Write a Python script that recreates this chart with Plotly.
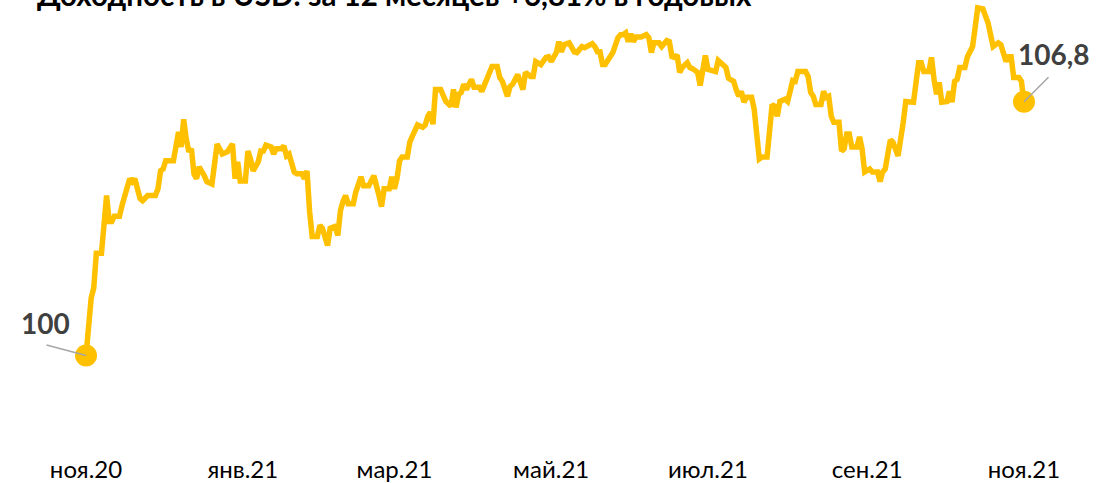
import plotly.graph_objects as go

title_text = "Доходность в USD: за 12 месяцев +6,81% в годовых"

dates = [
    "2020-11-01", "2020-11-03", "2020-11-04", "2020-11-05", "2020-11-07", "2020-11-08", "2020-11-09", "2020-11-10",
    "2020-11-11", "2020-11-12", "2020-11-14", "2020-11-15", "2020-11-17", "2020-11-18", "2020-11-19", "2020-11-20",
    "2020-11-22", "2020-11-23", "2020-11-25", "2020-11-28", "2020-11-29", "2020-11-30", "2020-12-01", "2020-12-02",
    "2020-12-05", "2020-12-06", "2020-12-07", "2020-12-08", "2020-12-09", "2020-12-10", "2020-12-11", "2020-12-12",
    "2020-12-13", "2020-12-14", "2020-12-15", "2020-12-17", "2020-12-18", "2020-12-20", "2020-12-21", "2020-12-22",
    "2020-12-24", "2020-12-26", "2020-12-28", "2020-12-29", "2020-12-30", "2020-12-31", "2021-01-02", "2021-01-03",
    "2021-01-04", "2021-01-05", "2021-01-07", "2021-01-08", "2021-01-09", "2021-01-10", "2021-01-12", "2021-01-13",
    "2021-01-14", "2021-01-16", "2021-01-17", "2021-01-18", "2021-01-19", "2021-01-21", "2021-01-22", "2021-01-24",
    "2021-01-25", "2021-01-26", "2021-01-27", "2021-01-28", "2021-01-30", "2021-01-31", "2021-02-01", "2021-02-03",
    "2021-02-04", "2021-02-06", "2021-02-07", "2021-02-08", "2021-02-09", "2021-02-10", "2021-02-11", "2021-02-13",
    "2021-02-14", "2021-02-16", "2021-02-17", "2021-02-19", "2021-02-21", "2021-02-22", "2021-02-23", "2021-02-24",
    "2021-02-25", "2021-02-27", "2021-02-28", "2021-03-01", "2021-03-02", "2021-03-03", "2021-03-04", "2021-03-06",
    "2021-03-07", "2021-03-08", "2021-03-10", "2021-03-12", "2021-03-13", "2021-03-14", "2021-03-15", "2021-03-16",
    "2021-03-17", "2021-03-19", "2021-03-21", "2021-03-23", "2021-03-24", "2021-03-25", "2021-03-26", "2021-03-27",
    "2021-03-28", "2021-03-29", "2021-03-31", "2021-04-01", "2021-04-03", "2021-04-04", "2021-04-06", "2021-04-08",
    "2021-04-10", "2021-04-11", "2021-04-12", "2021-04-14", "2021-04-15", "2021-04-16", "2021-04-18", "2021-04-19",
    "2021-04-20", "2021-04-21", "2021-04-23", "2021-04-24", "2021-04-25", "2021-04-27", "2021-04-29", "2021-04-30",
    "2021-05-01", "2021-05-03", "2021-05-04", "2021-05-05", "2021-05-06", "2021-05-08", "2021-05-10", "2021-05-11",
    "2021-05-13", "2021-05-14", "2021-05-17", "2021-05-18", "2021-05-19", "2021-05-20", "2021-05-21", "2021-05-22",
    "2021-05-24", "2021-05-25", "2021-05-27", "2021-05-28", "2021-05-29", "2021-05-30", "2021-05-31", "2021-06-01",
    "2021-06-02", "2021-06-03", "2021-06-05", "2021-06-07", "2021-06-08", "2021-06-09", "2021-06-10", "2021-06-12",
    "2021-06-13", "2021-06-15", "2021-06-16", "2021-06-17", "2021-06-18", "2021-06-19", "2021-06-20", "2021-06-21",
    "2021-06-23", "2021-06-24", "2021-06-25", "2021-06-27", "2021-06-28", "2021-06-29", "2021-06-30", "2021-07-01",
    "2021-07-03", "2021-07-04", "2021-07-05", "2021-07-07", "2021-07-08", "2021-07-09", "2021-07-10", "2021-07-11",
    "2021-07-12", "2021-07-13", "2021-07-14", "2021-07-15", "2021-07-16", "2021-07-18", "2021-07-19", "2021-07-20",
    "2021-07-21", "2021-07-22", "2021-07-24", "2021-07-26", "2021-07-27", "2021-07-28", "2021-07-29", "2021-07-31",
    "2021-08-01", "2021-08-02", "2021-08-03", "2021-08-04", "2021-08-05", "2021-08-08", "2021-08-09", "2021-08-10",
    "2021-08-11", "2021-08-12", "2021-08-14", "2021-08-15", "2021-08-16", "2021-08-17", "2021-08-18", "2021-08-19",
    "2021-08-21", "2021-08-22", "2021-08-23", "2021-08-24", "2021-08-25", "2021-08-26", "2021-08-28", "2021-08-29",
    "2021-08-30", "2021-08-31", "2021-09-02", "2021-09-03", "2021-09-05", "2021-09-06", "2021-09-07", "2021-09-08",
    "2021-09-09", "2021-09-10", "2021-09-11", "2021-09-13", "2021-09-15", "2021-09-16", "2021-09-19", "2021-09-21",
    "2021-09-22", "2021-09-23", "2021-09-25", "2021-09-26", "2021-09-27", "2021-09-28", "2021-09-29", "2021-09-30",
    "2021-10-02", "2021-10-03", "2021-10-04", "2021-10-05", "2021-10-06", "2021-10-07", "2021-10-09", "2021-10-10",
    "2021-10-12", "2021-10-14", "2021-10-16", "2021-10-18", "2021-10-20", "2021-10-22", "2021-10-23", "2021-10-25",
    "2021-10-26", "2021-10-27", "2021-10-28", "2021-10-30", "2021-10-31", "2021-11-01",
]

values = [
    100.00, 101.54, 101.81, 102.74, 102.74, 103.67, 104.29, 103.59,
    103.59, 103.73, 103.73, 104.02, 104.55, 104.74, 104.66, 104.74,
    104.21, 104.15, 104.29, 104.29, 104.47, 104.95, 105.00, 105.22,
    105.22, 105.72, 105.99, 105.59, 106.33, 105.80, 105.46, 105.54,
    104.87, 104.74, 105.06, 104.82, 104.66, 104.60, 105.08, 105.67,
    105.40, 105.46, 105.67, 104.74, 105.19, 104.68, 104.68, 105.48,
    105.27, 104.95, 105.19, 105.48, 105.48, 105.64, 105.59, 105.40,
    105.54, 105.54, 105.62, 105.35, 105.40, 104.92, 104.87, 104.87,
    104.74, 104.95, 103.86, 103.19, 103.19, 103.49, 103.41, 102.95,
    103.41, 103.46, 103.22, 103.89, 104.13, 104.29, 104.07, 104.07,
    104.39, 104.79, 104.55, 104.55, 104.82, 104.60, 104.29, 103.99,
    104.47, 104.47, 104.79, 104.47, 104.74, 105.22, 105.32, 105.32,
    105.72, 105.88, 106.18, 106.12, 106.18, 106.41, 106.52, 106.20,
    107.13, 107.13, 106.81, 106.68, 107.13, 106.65, 107.00, 107.05,
    107.27, 107.13, 107.40, 107.19, 107.19, 107.08, 107.45, 107.75,
    107.75, 107.45, 107.35, 106.95, 107.21, 107.27, 107.53, 107.27,
    107.13, 107.59, 107.48, 107.48, 107.88, 107.80, 107.99, 108.01,
    107.88, 108.12, 108.41, 108.14, 108.33, 108.38, 108.14, 108.12,
    108.28, 108.25, 108.36, 108.28, 108.14, 108.14, 107.80, 107.80,
    108.01, 108.12, 108.52, 108.60, 108.60, 108.65, 108.41, 108.62,
    108.41, 108.54, 108.54, 108.60, 108.52, 108.12, 108.38, 108.38,
    108.28, 108.44, 108.41, 108.01, 107.99, 108.06, 107.59, 107.72,
    107.85, 107.72, 107.69, 107.59, 107.24, 107.67, 108.04, 107.67,
    107.61, 107.61, 107.91, 107.75, 107.72, 107.43, 107.40, 107.35,
    107.13, 106.95, 107.08, 106.79, 106.92, 106.92, 106.60, 106.07,
    105.27, 105.32, 105.32, 106.73, 106.68, 106.41, 106.81, 106.87,
    106.81, 107.08, 107.37, 107.35, 107.61, 107.61, 107.48, 107.05,
    106.95, 106.73, 106.73, 107.08, 106.92, 106.95, 106.41, 106.25,
    106.25, 105.48, 105.54, 105.94, 105.94, 105.59, 105.59, 105.86,
    105.54, 104.92, 105.00, 104.92, 104.92, 104.66, 104.92, 105.00,
    105.46, 105.78, 105.72, 105.35, 106.25, 106.81, 106.79, 107.85,
    107.85, 107.61, 107.61, 107.99, 107.40, 107.00, 107.32, 106.79,
    106.81, 107.08, 106.79, 107.35, 107.40, 107.72, 107.72, 108.01,
    108.28, 109.32, 109.29, 108.92, 108.28, 108.38, 108.33, 107.88,
    108.01, 108.01, 107.45, 107.45, 107.35, 106.80,
]

tick_dates = ["2020-11-01", "2021-01-01", "2021-03-01", "2021-05-01",
              "2021-07-01", "2021-09-01", "2021-11-01"]
tick_labels = ["ноя.20", "янв.21", "мар.21", "май.21", "июл.21", "сен.21", "ноя.21"]

start_label = "100"
end_label = "106,8"

GOLD = "#FFC000"
LABEL_COLOR = "#404040"
LEADER_COLOR = "#A6A6A6"
FONT = "Lato"

fig = go.Figure()
fig.add_trace(go.Scatter(
    x=dates, y=values, mode="lines",
    line=dict(color=GOLD, width=5.5),
    hoverinfo="skip", showlegend=False,
))
fig.add_trace(go.Scatter(
    x=[dates[0], dates[-1]], y=[values[0], values[-1]], mode="markers",
    marker=dict(color=GOLD, size=22),
    hoverinfo="skip", showlegend=False, cliponaxis=False,
))

annotations = [
    dict(text="<b>" + title_text + "</b>", xref="paper", yref="paper",
         x=0, y=1, xanchor="left", yanchor="bottom", xshift=-5, yshift=-14,
         showarrow=False, font=dict(family=FONT, size=29.5, color="#000000")),
    # leader lines
    dict(text="", x=dates[0], y=values[0], xref="x", yref="y",
         showarrow=True, arrowhead=0, arrowwidth=1.5, arrowcolor=LEADER_COLOR,
         ax=-41, ay=-11),
    dict(text="", x=dates[-1], y=values[-1], xref="x", yref="y",
         showarrow=True, arrowhead=0, arrowwidth=1.5, arrowcolor=LEADER_COLOR,
         ax=26, ay=-26),
    # data labels
    dict(text="<b>" + start_label + "</b>", x=dates[0], y=values[0], xref="x", yref="y",
         showarrow=False, xshift=-41, yshift=33,
         font=dict(family=FONT, size=28, color=LABEL_COLOR)),
    dict(text="<b>" + end_label + "</b>", x=dates[-1], y=values[-1], xref="x", yref="y",
         showarrow=False, xshift=30, yshift=48,
         font=dict(family=FONT, size=28, color=LABEL_COLOR)),
]

fig.update_layout(
    width=1099, height=483,
    margin=dict(l=40, r=40, t=0, b=43),
    paper_bgcolor="white", plot_bgcolor="white",
    annotations=annotations,
    xaxis=dict(
        type="date",
        range=["2020-10-14 02:00", "2021-11-14 15:00"],
        tickvals=tick_dates, ticktext=tick_labels,
        showgrid=False, zeroline=False, showline=False,
        ticks="outside", ticklen=11, tickcolor="rgba(0,0,0,0)",
        tickfont=dict(family=FONT, size=24, color="#000000"),
    ),
    yaxis=dict(
        range=[97.817, 109.529],
        showgrid=False, zeroline=False, showline=False,
        showticklabels=False, ticks="",
    ),
)

fig.write_html("out.html", config={"displayModeBar": False},
               post_script="document.body.style.margin='0';")
